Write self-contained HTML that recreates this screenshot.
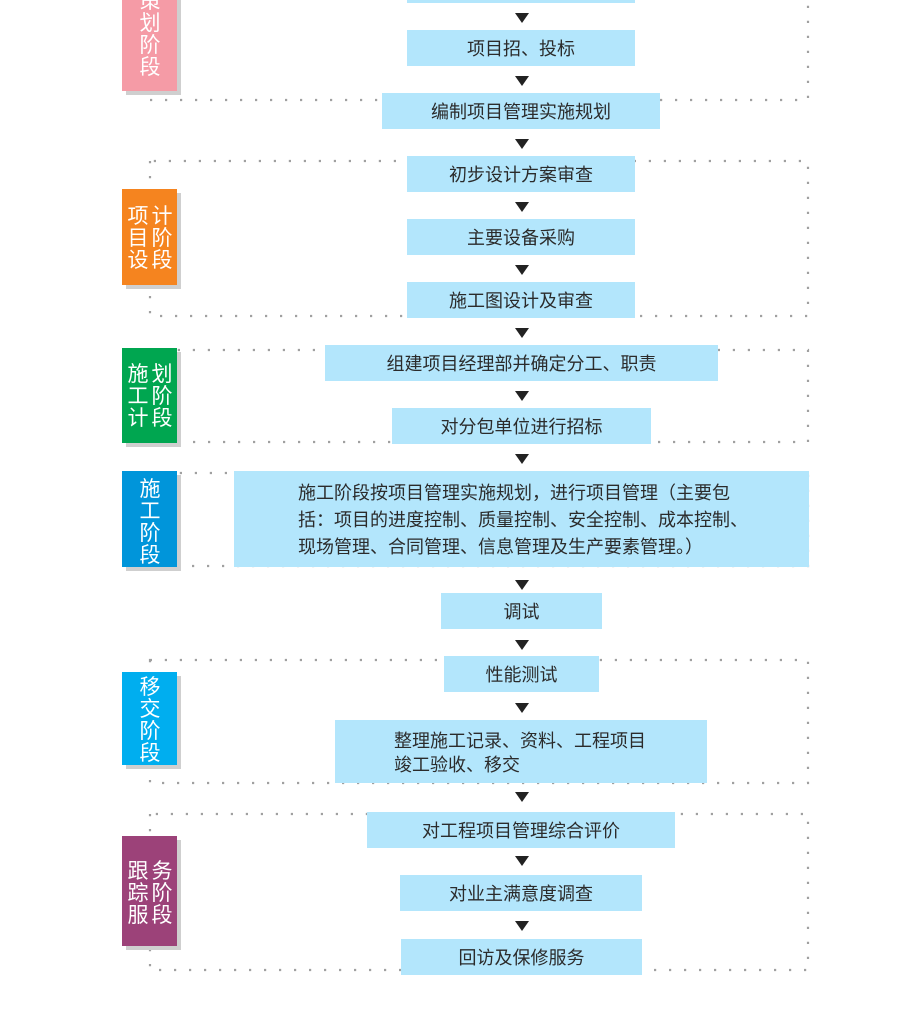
<!DOCTYPE html>
<html><head><meta charset="utf-8"><style>
body{margin:0;width:917px;height:1022px;background:#fff;position:relative;overflow:hidden;font-family:"Liberation Sans","Noto Sans CJK SC",sans-serif}
.b{position:absolute;background:#b3e6fc;color:#2b2b2b;font-size:18px;display:flex;align-items:center;justify-content:center;text-align:center;line-height:22px;padding-top:2px;box-sizing:border-box}
.a{position:absolute;left:515px;width:0;height:0;border-left:7px solid transparent;border-right:7px solid transparent;border-top:10px solid #222}
.l{position:absolute;left:122px;width:55px;box-shadow:4px 4px 0 #cfcfcf;color:#fff;font-size:21px;line-height:22px}
.c{position:absolute;width:22px;text-align:center}
svg{position:absolute;left:0;top:0}
</style></head><body>
<svg width="917" height="1022"><g fill="none" stroke="#a0a0a0" stroke-width="2.2" stroke-dasharray="2.2 12.8">
<path d="M150 -20 V100 H808 V-20"/>
<path d="M150 161 V316 H808 V161 Z"/>
<path d="M150 350 V442 H808 V350 Z"/>
<path d="M150 473 V566 H808 V473 Z"/>
<path d="M150 660 V783 H808 V660 Z"/>
<path d="M150 814 V970 H808 V814 Z"/>
</g></svg>

<div class="b" style="left:407px;top:-33px;width:228px;height:36px"></div>
<div class="b" style="left:407px;top:30px;width:228px;height:36px">项目招、投标</div>
<div class="b" style="left:382px;top:93px;width:278px;height:36px">编制项目管理实施规划</div>
<div class="b" style="left:407px;top:156px;width:228px;height:36px">初步设计方案审查</div>
<div class="b" style="left:407px;top:219px;width:228px;height:36px">主要设备采购</div>
<div class="b" style="left:407px;top:282px;width:228px;height:36px">施工图设计及审查</div>
<div class="b" style="left:325px;top:345px;width:393px;height:36px">组建项目经理部并确定分工、职责</div>
<div class="b" style="left:392px;top:408px;width:259px;height:36px">对分包单位进行招标</div>
<div class="b" style="left:234px;top:471px;width:575px;height:96px;justify-content:flex-start;text-align:left;padding-left:64px;line-height:27px">施工阶段按项目管理实施规划，进行项目管理（主要包<br>括：项目的进度控制、质量控制、安全控制、成本控制、<br>现场管理、合同管理、信息管理及生产要素管理。）</div>
<div class="b" style="left:441px;top:593px;width:161px;height:36px">调试</div>
<div class="b" style="left:444px;top:656px;width:155px;height:36px">性能测试</div>
<div class="b" style="left:335px;top:720px;width:372px;height:63px;justify-content:flex-start;text-align:left;padding-left:59px;line-height:24px">整理施工记录、资料、工程项目<br>竣工验收、移交</div>
<div class="b" style="left:367px;top:812px;width:308px;height:36px">对工程项目管理综合评价</div>
<div class="b" style="left:400px;top:875px;width:242px;height:36px">对业主满意度调查</div>
<div class="b" style="left:401px;top:939px;width:241px;height:36px">回访及保修服务</div>

<div class="a" style="top:13px"></div>
<div class="a" style="top:76px"></div>
<div class="a" style="top:139px"></div>
<div class="a" style="top:202px"></div>
<div class="a" style="top:265px"></div>
<div class="a" style="top:328px"></div>
<div class="a" style="top:391px"></div>
<div class="a" style="top:454px"></div>
<div class="a" style="top:580px"></div>
<div class="a" style="top:640px"></div>
<div class="a" style="top:703px"></div>
<div class="a" style="top:792px"></div>
<div class="a" style="top:856px"></div>
<div class="a" style="top:921px"></div>

<div class="l" style="top:-20px;height:111px;background:#f59ba6;overflow:hidden"><div class="c" style="left:17px;top:11px">策<br>划<br>阶<br>段</div></div>
<div class="l" style="top:189px;height:96px;background:#f5841f"><div class="c" style="left:5px;top:17px">项<br>目<br>设</div><div class="c" style="left:29px;top:17px">计<br>阶<br>段</div></div>
<div class="l" style="top:348px;height:95px;background:#00a650"><div class="c" style="left:5px;top:16px">施<br>工<br>计</div><div class="c" style="left:29px;top:16px">划<br>阶<br>段</div></div>
<div class="l" style="top:471px;height:96px;background:#0095da;overflow:hidden"><div class="c" style="left:17px;top:8px">施<br>工<br>阶<br>段</div></div>
<div class="l" style="top:672px;height:93px;background:#00aeef;overflow:hidden"><div class="c" style="left:17px;top:5px">移<br>交<br>阶<br>段</div></div>
<div class="l" style="top:836px;height:110px;background:#9c4279"><div class="c" style="left:5px;top:25px">跟<br>踪<br>服</div><div class="c" style="left:29px;top:25px">务<br>阶<br>段</div></div>
</body></html>
